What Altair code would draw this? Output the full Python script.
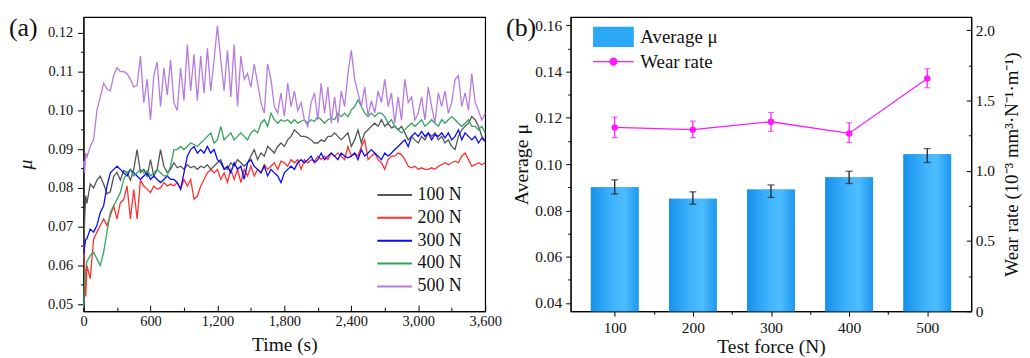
import altair as alt
import pandas as pd

FONT = "Liberation Serif"
TXT = "#111111"

# ---------------- panel (a) data ----------------
TIME = [0, 10, 20] + list(range(30, 3601, 30))
SERIES = ["100 N", "200 N", "300 N", "400 N", "500 N"]
COLORS = ["#555555", "#ff3030", "#0a0aff", "#33a35e", "#b57be0"]

MU_100 = [0.062, 0.072, 0.078,
          0.076, 0.081, 0.080, 0.082, 0.083, 0.081, 0.0785, 0.079, 0.083, 0.084,
          0.082, 0.0845, 0.084, 0.082, 0.0848, 0.0899, 0.084, 0.0848, 0.083, 0.0873,
          0.083, 0.0848, 0.0899, 0.0856, 0.084, 0.0848, 0.0865, 0.0852, 0.0856, 0.0848,
          0.086, 0.0852, 0.0856, 0.0848, 0.0856, 0.0852, 0.086, 0.0848, 0.0856, 0.0865,
          0.0873, 0.085, 0.0848, 0.0865, 0.0856, 0.0873, 0.0865, 0.0856, 0.0865, 0.0882,
          0.0899, 0.0873, 0.089, 0.0882, 0.0907, 0.0899, 0.089, 0.0907, 0.0916, 0.0907,
          0.0924, 0.0933, 0.095, 0.0942, 0.0933, 0.0933, 0.093, 0.0924, 0.0916, 0.0916,
          0.0924, 0.092, 0.0933, 0.0933, 0.0942, 0.0933, 0.0924, 0.0933, 0.0942, 0.0907,
          0.0924, 0.095, 0.0916, 0.0942, 0.095, 0.0959, 0.0967, 0.0959, 0.0976, 0.0959,
          0.0967, 0.0955, 0.0959, 0.095, 0.0959, 0.0942, 0.0924, 0.0933, 0.0924, 0.0916,
          0.0933, 0.0924, 0.0942, 0.0933, 0.0942, 0.0924, 0.0933, 0.0916, 0.0924, 0.0907,
          0.0899, 0.0933, 0.095, 0.0959, 0.0967, 0.0984, 0.0976, 0.0959, 0.0933, 0.0924]

MU_200 = [0.065, 0.058, 0.052,
          0.060, 0.0566, 0.0668, 0.0686, 0.0703, 0.072, 0.0703, 0.0728, 0.0754, 0.072,
          0.0762, 0.077, 0.0805, 0.072, 0.0796, 0.072, 0.082, 0.0805, 0.0797, 0.0788,
          0.0805, 0.0797, 0.080, 0.0814, 0.0805, 0.081, 0.0805, 0.0814, 0.0797, 0.0822,
          0.0805, 0.0822, 0.0771, 0.0779, 0.0805, 0.0822, 0.0839, 0.0848, 0.0839, 0.0848,
          0.0822, 0.0839, 0.0814, 0.0848, 0.0822, 0.0848, 0.0814, 0.0848, 0.0831, 0.0856,
          0.0831, 0.0848, 0.0839, 0.086, 0.0848, 0.0856, 0.0865, 0.0848, 0.0869, 0.0865,
          0.0856, 0.0873, 0.0865, 0.0873, 0.0848, 0.0873, 0.0865, 0.0873, 0.0869, 0.0882,
          0.0873, 0.0882, 0.0873, 0.089, 0.0882, 0.089, 0.0882, 0.0873, 0.0907, 0.0882,
          0.089, 0.0882, 0.0907, 0.0924, 0.0873, 0.0882, 0.089, 0.0873, 0.0865, 0.0848,
          0.0873, 0.0882, 0.0882, 0.089, 0.0886, 0.0873, 0.0856, 0.0852, 0.0856, 0.0848,
          0.0852, 0.0848, 0.0848, 0.0852, 0.0848, 0.0856, 0.086, 0.0865, 0.086, 0.0865,
          0.0869, 0.0865, 0.0882, 0.089, 0.0873, 0.0856, 0.086, 0.0865, 0.086, 0.0865]

MU_300 = [0.063, 0.065, 0.0668,
          0.0669, 0.0694, 0.0686, 0.0703, 0.0737, 0.0754, 0.0805, 0.0839, 0.0848, 0.0856,
          0.0848, 0.0839, 0.0831, 0.0848, 0.0839, 0.0831, 0.0822, 0.0831, 0.0839, 0.0822,
          0.0831, 0.0822, 0.0814, 0.0822, 0.0831, 0.0822, 0.0822, 0.0814, 0.0797, 0.0839,
          0.0882, 0.0899, 0.0907, 0.089, 0.0899, 0.089, 0.0907, 0.089, 0.0899, 0.0873,
          0.0865, 0.0848, 0.0856, 0.0839, 0.0865, 0.0848, 0.0856, 0.0822, 0.0865, 0.0873,
          0.0856, 0.0848, 0.0839, 0.0856, 0.0831, 0.0848, 0.0839, 0.0831, 0.0814, 0.0839,
          0.0848, 0.0856, 0.0848, 0.0865, 0.0873, 0.0865, 0.0873, 0.0882, 0.0865, 0.0873,
          0.089, 0.0873, 0.0882, 0.089, 0.0882, 0.0873, 0.089, 0.0882, 0.0878, 0.0882,
          0.089, 0.0873, 0.0899, 0.0882, 0.089, 0.0899, 0.089, 0.0882, 0.0873, 0.089,
          0.0882, 0.089, 0.0899, 0.0907, 0.0916, 0.0924, 0.0907, 0.0933, 0.0942, 0.0933,
          0.0946, 0.0933, 0.0942, 0.0924, 0.0938, 0.0933, 0.0942, 0.0929, 0.0942, 0.0924,
          0.0933, 0.095, 0.0924, 0.0942, 0.0933, 0.0924, 0.0933, 0.0916, 0.0929, 0.092]

MU_400 = [0.049, 0.056, 0.059,
          0.061, 0.0626, 0.0634, 0.0617, 0.060, 0.0634, 0.0686, 0.0737, 0.0754, 0.0771,
          0.0788, 0.0822, 0.0839, 0.0848, 0.0831, 0.0839, 0.0848, 0.0839, 0.0844, 0.0831,
          0.0839, 0.0848, 0.0839, 0.0831, 0.0831, 0.0856, 0.0899, 0.0899, 0.0907, 0.0899,
          0.0907, 0.0916, 0.0912, 0.0907, 0.0916, 0.0924, 0.0933, 0.0942, 0.0916, 0.0924,
          0.0959, 0.0924, 0.0933, 0.0942, 0.0924, 0.0933, 0.0942, 0.0933, 0.0924, 0.0942,
          0.095, 0.0942, 0.0967, 0.0976, 0.0959, 0.0993, 0.0976, 0.0967, 0.0976, 0.0972,
          0.0976, 0.0967, 0.0976, 0.0967, 0.0972, 0.0976, 0.0967, 0.0976, 0.0972, 0.0984,
          0.0976, 0.0967, 0.0976, 0.098, 0.0976, 0.0993, 0.0984, 0.0993, 0.0984, 0.1001,
          0.101, 0.1027, 0.101, 0.0993, 0.0984, 0.0993, 0.0984, 0.0993, 0.0993, 0.0984,
          0.0967, 0.0976, 0.0959, 0.095, 0.0942, 0.095, 0.0959, 0.0967, 0.0959, 0.0967,
          0.0976, 0.0959, 0.0967, 0.0976, 0.0967, 0.0959, 0.0976, 0.0967, 0.0976, 0.0984,
          0.0976, 0.0967, 0.0959, 0.0967, 0.0976, 0.0959, 0.0959, 0.095, 0.0959, 0.0942]

MU_500 = [0.087, 0.084, 0.089,
          0.088, 0.0907, 0.0925, 0.100, 0.1035, 0.107, 0.1056, 0.105, 0.109, 0.111,
          0.110, 0.110, 0.1095, 0.108, 0.106, 0.1065, 0.114, 0.102, 0.108, 0.0975,
          0.109, 0.1125, 0.101, 0.111, 0.104, 0.113, 0.102, 0.100, 0.111, 0.1025,
          0.117, 0.105, 0.1145, 0.1025, 0.114, 0.1045, 0.116, 0.105, 0.113, 0.1219,
          0.113, 0.105, 0.1155, 0.1035, 0.117, 0.101, 0.114, 0.108, 0.1095, 0.106,
          0.112, 0.107, 0.102, 0.0993, 0.112, 0.108, 0.101, 0.0993, 0.1045, 0.0985,
          0.107, 0.101, 0.105, 0.100, 0.102, 0.0975, 0.0958, 0.102, 0.1045, 0.0975,
          0.107, 0.0993, 0.106, 0.0967, 0.1035, 0.0967, 0.105, 0.101, 0.1095, 0.1155,
          0.108, 0.1045, 0.101, 0.106, 0.0985, 0.1025, 0.0993, 0.105, 0.102, 0.108,
          0.101, 0.1045, 0.0967, 0.1035, 0.0975, 0.108, 0.102, 0.1035, 0.0975, 0.0993,
          0.1035, 0.0975, 0.106, 0.101, 0.0967, 0.1045, 0.101, 0.105, 0.0993, 0.102,
          0.108, 0.109, 0.101, 0.1045, 0.100, 0.1095, 0.102, 0.100, 0.0975, 0.0993]

X_TICKS_A = list(range(0, 3601, 300))
Y_TICKS_A = [0.05, 0.055, 0.06, 0.065, 0.07, 0.075, 0.08, 0.085, 0.09, 0.095,
             0.10, 0.105, 0.11, 0.115, 0.12]

# ---------------- panel (b) data ----------------
FORCE = [100, 200, 300, 400, 500]
AVG_MU = [0.0900, 0.0850, 0.0890, 0.0943, 0.1043]
AVG_MU_LO = [0.0871, 0.0827, 0.0856, 0.0916, 0.1007]
AVG_MU_HI = [0.0932, 0.0880, 0.0910, 0.0969, 0.1067]
WEAR = [1.309, 1.293, 1.349, 1.266, 1.657]
WEAR_LO = [1.236, 1.236, 1.281, 1.202, 1.591]
WEAR_HI = [1.382, 1.354, 1.415, 1.342, 1.726]
X_TICKS_B = [100, 150, 200, 250, 300, 350, 400, 450, 500]
Y_TICKS_B = [0.04, 0.05, 0.06, 0.07, 0.08, 0.09, 0.10, 0.11, 0.12, 0.13, 0.14, 0.15, 0.16]
Y2_TICKS_B = [0, 0.25, 0.5, 0.75, 1.0, 1.25, 1.5, 1.75, 2.0]

# ---------------- panel (a) ----------------
rows = []
for name, vals in zip(SERIES, [MU_100, MU_200, MU_300, MU_400, MU_500]):
    for t, v in zip(TIME, vals):
        rows.append({"time": t, "mu": v, "series": name})
df_a = pd.DataFrame(rows)

major_a = "abs(datum.value*100 - round(datum.value*100)) < 0.001"
lines = alt.Chart(df_a).mark_line(strokeWidth=1.3).encode(
    x=alt.X("time:Q", scale=alt.Scale(domain=[0, 3600], nice=False, zero=False),
            axis=alt.Axis(title="Time (s)", values=X_TICKS_A,
                          labelExpr="datum.value % 600 == 0 ? format(datum.value, ',') : ''",
                          tickSize={"condition": {"test": "datum.value % 600 == 0", "value": -6}, "value": -4},
                          labelFontSize=14.5, titleFontSize=19.5, labelPadding=9, titlePadding=6)),
    y=alt.Y("mu:Q", scale=alt.Scale(domain=[0.0482, 0.1241], nice=False, zero=False),
            axis=alt.Axis(title="μ", values=Y_TICKS_A,
                          labelExpr=major_a + " ? format(datum.value, '.2f') : ''",
                          tickSize={"condition": {"test": major_a, "value": 6}, "value": 3},
                          labelFontSize=14.5, titleFontSize=20, titleFontStyle="italic",
                          labelPadding=5, titlePadding=12)),
    color=alt.Color("series:N", scale=alt.Scale(domain=SERIES, range=COLORS),
                    legend=alt.Legend(title=None, orient="none", legendX=304, legendY=170,
                                      symbolType="M-2.2,0H2.2", symbolSize=253,
                                      symbolStrokeWidth=2, labelFontSize=18,
                                      labelOffset=14, rowPadding=5, padding=0)),
)
lab_a = alt.Chart(pd.DataFrame({"t": ["(a)"]})).mark_text(
    font=FONT, fontSize=26, align="left", baseline="alphabetic", color=TXT
).encode(text="t:N", x=alt.value(-75), y=alt.value(19.5))
panel_a = alt.layer(lines, lab_a).properties(width=404, height=296)

# ---------------- panel (b) ----------------
df_b = pd.DataFrame({"force": FORCE, "mu": AVG_MU, "mu_lo": AVG_MU_LO, "mu_hi": AVG_MU_HI,
                     "wear": WEAR, "wear_lo": WEAR_LO, "wear_hi": WEAR_HI,
                     "lab_mu": ["Average μ"] * 5, "lab_wear": ["Wear rate"] * 5})
base = alt.Chart(df_b)
xs_b = alt.Scale(domain=[50, 550], nice=False, zero=False)
# x axis defined once (first layer); other layers leave the axis unspecified so it merges
x_plain = alt.X("force:Q", scale=xs_b)
x_axis_b = alt.X("force:Q", scale=xs_b,
                 axis=alt.Axis(orient="bottom", title="Test force (N)", values=X_TICKS_B,
                               labelExpr="datum.value % 100 == 0 ? format(datum.value, 'd') : ''",
                               tickSize={"condition": {"test": "datum.value % 100 == 0", "value": 5}, "value": 3},
                               labelFontSize=15.5, titleFontSize=19.5, labelPadding=4, titlePadding=2))
ys_mu = alt.Scale(domain=[0.0364, 0.1636], nice=False, zero=False)
ys_w = alt.Scale(domain=[0, 2.095], nice=False, zero=False)

major_b = "abs(datum.value*50 - round(datum.value*50)) < 0.01"
bars_leg = base.mark_bar(size=48, clip=True).encode(
    x=x_axis_b,
    y=alt.Y("mu:Q", scale=ys_mu,
            axis=alt.Axis(orient="left", title="Average μ", values=Y_TICKS_B,
                          labelExpr=major_b + " ? format(datum.value, '.2f') : ''",
                          tickSize={"condition": {"test": major_b, "value": 5}, "value": 3},
                          labelFontSize=15.5, titleFontSize=20, labelPadding=4, titlePadding=3)),
    fill=alt.Fill("lab_mu:N", scale=alt.Scale(range=["#2ba8f6"]),
                  legend=alt.Legend(title=None, orient="none", legendX=32, legendY=9,
                                    symbolType="M-2,-1H2V1H-2Z", symbolSize=420,
                                    symbolOpacity=1, labelFontSize=19, labelOffset=16, padding=0)),
)
grad = alt.Gradient(gradient="linear", x1=0, x2=1, y1=0, y2=0, stops=[
    alt.GradientStop(color="#1690ee", offset=0),
    alt.GradientStop(color="#3fb3fb", offset=0.45),
    alt.GradientStop(color="#4dbdfd", offset=0.7),
    alt.GradientStop(color="#1d97f0", offset=1),
])
bars_grad = base.mark_bar(size=48, clip=True, color=grad).encode(
    x=x_plain, y=alt.Y("mu:Q", scale=ys_mu, axis=None))
err_mu = base.mark_rule(color="#222222", strokeWidth=1.3).encode(
    x=x_plain, y=alt.Y("mu_lo:Q", scale=ys_mu, axis=None), y2="mu_hi:Q")
cap_mu_lo = base.mark_tick(orient="horizontal", size=7, thickness=1.3, color="#222222").encode(
    x=x_plain, y=alt.Y("mu_lo:Q", scale=ys_mu, axis=None))
cap_mu_hi = base.mark_tick(orient="horizontal", size=7, thickness=1.3, color="#222222").encode(
    x=x_plain, y=alt.Y("mu_hi:Q", scale=ys_mu, axis=None))

MAG = "#ff19ff"
wear_line = base.mark_line(color=MAG, strokeWidth=1.3).encode(
    x=x_plain,
    y=alt.Y("wear:Q", scale=ys_w,
            axis=alt.Axis(orient="right", title="Wear rate (10⁻³ mm³·N⁻¹·m⁻¹)", values=Y2_TICKS_B,
                          labelExpr="datum.value % 0.5 == 0 ? (datum.value == 0 ? '0' : format(datum.value, '.1f')) : ''",
                          tickSize={"condition": {"test": "datum.value % 0.5 == 0", "value": -5}, "value": -3},
                          labelFontSize=15.5, titleFontSize=19, titleAngle=270, titleBaseline="top",
                          labelPadding=9, titlePadding=8)))
err_w = base.mark_rule(color=MAG, strokeWidth=1.2).encode(
    x=x_plain, y=alt.Y("wear_lo:Q", scale=ys_w, axis=None), y2="wear_hi:Q")
cap_w_lo = base.mark_tick(orient="horizontal", size=6, thickness=1.2, color=MAG).encode(
    x=x_plain, y=alt.Y("wear_lo:Q", scale=ys_w, axis=None))
cap_w_hi = base.mark_tick(orient="horizontal", size=6, thickness=1.2, color=MAG).encode(
    x=x_plain, y=alt.Y("wear_hi:Q", scale=ys_w, axis=None))
wear_pts = base.mark_circle(size=42, opacity=1).encode(
    x=x_plain, y=alt.Y("wear:Q", scale=ys_w, axis=None),
    color=alt.Color("lab_wear:N", scale=alt.Scale(range=[MAG]),
                    legend=alt.Legend(title=None, orient="none", legendX=32, legendY=34,
                                      symbolType="M-2,0H2M-0.34,0A0.34,0.34,0,1,1,0.34,0A0.34,0.34,0,1,1,-0.34,0",
                                      symbolSize=420, symbolStrokeColor=MAG, symbolStrokeWidth=1.3,
                                      labelFontSize=19, labelOffset=16, padding=0)))

lab_b = alt.Chart(pd.DataFrame({"t": ["(b)"]})).mark_text(
    font=FONT, fontSize=26, align="left", baseline="alphabetic", color=TXT
).encode(text="t:N", x=alt.value(-65), y=alt.value(19.5))

panel_b = alt.layer(bars_leg, bars_grad, err_mu, cap_mu_lo, cap_mu_hi,
                    wear_line, err_w, cap_w_lo, cap_w_hi, wear_pts, lab_b
                    ).resolve_scale(y="independent").properties(width=403, height=296)

chart = alt.HConcatChart(hconcat=[panel_a, panel_b], spacing=86, bounds="flush").resolve_scale(
    color="independent", fill="independent"
).resolve_legend(color="independent", fill="independent").properties(
    padding={"left": 0, "top": 5, "right": 0, "bottom": 0}
).configure_view(stroke="#000000", strokeWidth=1.2).configure_axis(
    labelFont=FONT, titleFont=FONT, labelColor=TXT, titleColor=TXT,
    domainColor="#000000", tickColor="#000000", tickWidth=1, grid=False,
    titleFontWeight="normal", labelFlush=False, labelOverlap=False
).configure_legend(labelFont=FONT, labelColor=TXT)

chart.save("out.html", embed_options={"renderer": "svg", "actions": False})
